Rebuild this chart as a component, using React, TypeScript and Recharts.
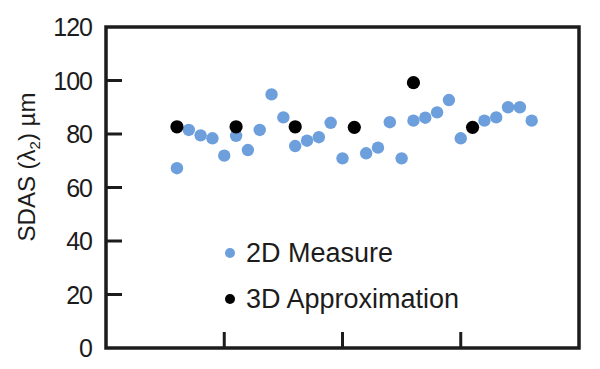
import {
  ScatterChart,
  Scatter,
  XAxis,
  YAxis,
  ReferenceArea,
  Legend,
} from 'recharts'

const measureX = [0.6, 0.7, 0.8, 0.9, 1.0, 1.1, 1.2, 1.3, 1.4, 1.5, 1.6, 1.7, 1.8, 1.9, 2.0, 2.2, 2.3, 2.4, 2.5, 2.6, 2.7, 2.8, 2.9, 3.0, 3.2, 3.3, 3.4, 3.5, 3.6]
const measureY = [67.2, 81.5, 79.5, 78.4, 71.9, 79.3, 74, 81.5, 94.8, 86.2, 75.5, 77.5, 78.8, 84.2, 70.9, 72.8, 74.9, 84.4, 70.9, 85, 86.1, 88.1, 92.7, 78.4, 85, 86.2, 90, 90, 85]

const approxX = [0.6, 1.1, 1.6, 2.1, 2.6, 3.1]
const approxY = [82.7, 82.7, 82.7, 82.5, 99.2, 82.5]

const yTicks = [0, 20, 40, 60, 80, 100, 120]
const xTicks = [1, 2, 3]

const BLUE = '#6c9fdc'
const INK = '#1c1c1c'
const FONT = '"Liberation Sans", Arial, Helvetica, sans-serif'

const PLOT_LEFT = 106
const PLOT_BOTTOM = 348
const TICK_LEN = 16

const measureData = measureX.map((x, i) => ({ x, y: measureY[i] }))
const approxData = approxX.map((x, i) => ({ x, y: approxY[i] }))

function YTick(props: any) {
  const { y, payload } = props
  const v = payload.value
  return (
    <g>
      <text
        x={92}
        y={y}
        dy={9}
        textAnchor='end'
        fontSize={25}
        letterSpacing={-1}
        fill={INK}
        fontFamily={FONT}
      >
        {v}
      </text>
      {v > 0 && v < 120 && (
        <line x1={PLOT_LEFT} x2={PLOT_LEFT + TICK_LEN} y1={y} y2={y} stroke={INK} strokeWidth={3} />
      )}
    </g>
  )
}

function XTick(props: any) {
  const { x } = props
  return <line x1={x} x2={x} y1={PLOT_BOTTOM} y2={PLOT_BOTTOM - TICK_LEN} stroke={INK} strokeWidth={3} />
}

function YLabel() {
  return (
    <text
      x={35}
      y={167}
      transform='rotate(-90, 35, 167)'
      textAnchor='middle'
      fontSize={24}
      fill={INK}
      fontFamily={FONT}
    >
      SDAS (λ
      <tspan fontSize={15} dy={5}>2</tspan>
      <tspan dy={-5}>) µm</tspan>
    </text>
  )
}

const dot = (color: string, r: number) => (p: any) => (
  <circle cx={p.cx} cy={p.cy} r={r} fill={color} />
)

function LegendBox() {
  const items = [
    { label: '2D Measure', color: BLUE },
    { label: '3D Approximation', color: '#000' },
  ]
  return (
    <div style={{ fontFamily: FONT, fontSize: 27, color: INK }}>
      {items.map((it) => (
        <div key={it.label} style={{ display: 'flex', alignItems: 'center', height: 46, lineHeight: '46px' }}>
          <span
            style={{
              display: 'inline-block',
              width: 10,
              height: 10,
              borderRadius: '50%',
              background: it.color,
              marginRight: 11,
            }}
          />
          <span style={{ whiteSpace: 'nowrap' }}>{it.label}</span>
        </div>
      ))}
    </div>
  )
}

export default function App() {
  return (
    <div style={{ position: 'absolute', left: 0, top: 0, width: 600, height: 369, background: '#fff' }}>
      <ScatterChart width={600} height={369} margin={{ top: 27, right: 21, bottom: 0, left: 0 }}>
        <XAxis
          dataKey='x'
          type='number'
          domain={[0, 4]}
          ticks={xTicks}
          height={21}
          axisLine={false}
          tickLine={false}
          tick={<XTick />}
        />
        <YAxis
          dataKey='y'
          type='number'
          domain={[0, 120]}
          ticks={yTicks}
          width={106}
          axisLine={false}
          tickLine={false}
          tick={<YTick />}
          label={<YLabel />}
        />
        <ReferenceArea x1={0} x2={4} y1={0} y2={120} fill='none' stroke={INK} strokeWidth={3.5} />
        <Scatter data={measureData} fill={BLUE} shape={dot(BLUE, 6.2)} isAnimationActive={false} />
        <Scatter data={approxData} fill='#000' shape={dot('#000', 6.6)} isAnimationActive={false} />
        <Legend
          layout='vertical'
          verticalAlign='middle'
          align='center'
          wrapperStyle={{ position: 'absolute', left: 225, top: 230, width: 'auto', height: 'auto' }}
          content={() => <LegendBox />}
        />
      </ScatterChart>
    </div>
  )
}
